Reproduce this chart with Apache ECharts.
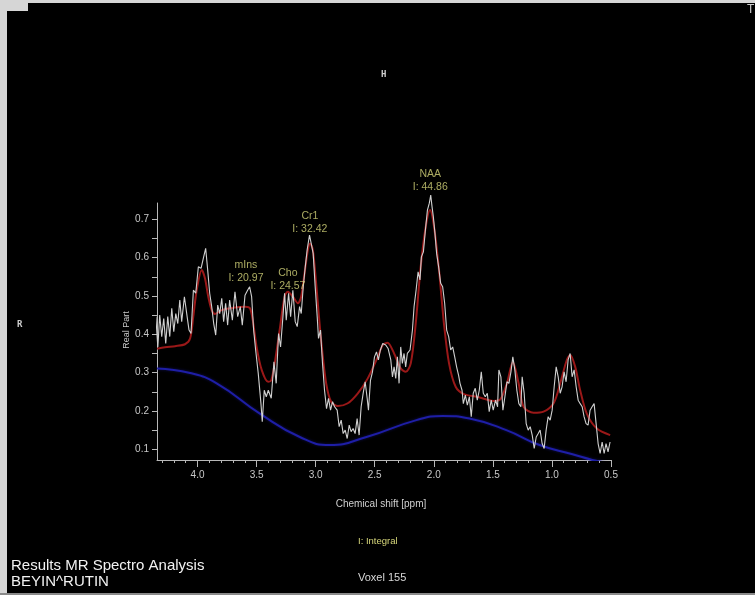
<!DOCTYPE html>
<html>
<head>
<meta charset="utf-8">
<title>MR Spectro Analysis</title>
<script src="https://cdn.jsdelivr.net/npm/echarts@6/dist/echarts.min.js"></script>
<style>
  html, body { margin: 0; padding: 0; background: #000; }
  #chart { width: 755px; height: 595px; }
</style>
</head>
<body>
<div id="chart"></div>
<script>
// Measured spectrum (real part) – chemical shift in ppm and amplitude
const measuredShift = [
  4.353, 4.336, 4.320, 4.303, 4.286, 4.269, 4.252, 4.235, 4.218, 4.201,
  4.184, 4.167, 4.150, 4.134, 4.111, 4.088, 4.072, 4.055, 4.035, 4.015,
  3.993, 3.970, 3.948, 3.931, 3.914, 3.897, 3.880, 3.863, 3.846, 3.829,
  3.812, 3.795, 3.779, 3.762, 3.745, 3.728, 3.705, 3.683, 3.660, 3.638,
  3.621, 3.598, 3.576, 3.559, 3.542, 3.525, 3.508, 3.486, 3.463, 3.452,
  3.435, 3.418, 3.401,
  3.376, 3.353, 3.334, 3.314, 3.297, 3.277, 3.263, 3.249, 3.229, 3.212,
  3.193, 3.173, 3.156, 3.136, 3.122, 3.105, 3.088, 3.072, 3.052, 3.038,
  3.021, 3.004, 2.987, 2.976, 2.959, 2.942, 2.925, 2.908, 2.891, 2.874,
  2.857, 2.840, 2.818, 2.801, 2.784, 2.767, 2.750, 2.733, 2.716, 2.700,
  2.683, 2.666, 2.649, 2.632, 2.615, 2.598, 2.581, 2.564, 2.553, 2.536,
  2.519, 2.502, 2.485, 2.469, 2.452,
  2.432, 2.407, 2.387, 2.364, 2.350, 2.336, 2.322, 2.308, 2.294, 2.280,
  2.266, 2.252, 2.238, 2.224, 2.201, 2.181, 2.167, 2.150, 2.133, 2.117,
  2.105, 2.088, 2.071, 2.054, 2.038, 2.026, 2.015, 2.004, 1.990, 1.976,
  1.959, 1.942, 1.925, 1.908, 1.891, 1.874, 1.857, 1.840, 1.823, 1.807,
  1.790, 1.778, 1.761, 1.750, 1.733, 1.716, 1.699, 1.683, 1.666, 1.649,
  1.632, 1.615, 1.598, 1.581, 1.564, 1.547, 1.531, 1.514, 1.497, 1.477,
  1.460, 1.449, 1.432, 1.415, 1.398, 1.381, 1.364, 1.347, 1.331, 1.314,
  1.297, 1.280, 1.263, 1.252, 1.235, 1.218, 1.201, 1.184, 1.167, 1.150,
  1.133, 1.116, 1.100, 1.083, 1.066, 1.049, 1.032, 1.015, 0.998, 0.981,
  0.964, 0.947, 0.930, 0.914, 0.897, 0.880, 0.863, 0.846, 0.829, 0.812,
  0.795, 0.778, 0.761, 0.744, 0.728, 0.711, 0.694, 0.677, 0.660, 0.643,
  0.626, 0.609, 0.592, 0.575, 0.558, 0.542, 0.525, 0.508
];
const measuredReal = [
  0.446, 0.367, 0.450, 0.394, 0.441, 0.376, 0.446, 0.394, 0.468, 0.407,
  0.454, 0.428, 0.489, 0.433, 0.498, 0.446, 0.411, 0.402, 0.515, 0.507,
  0.576, 0.572, 0.602, 0.624, 0.568, 0.507, 0.472, 0.428, 0.398, 0.476,
  0.454, 0.494, 0.433, 0.481, 0.424, 0.489, 0.437, 0.511, 0.446, 0.472,
  0.424, 0.502, 0.515, 0.524, 0.498, 0.411, 0.359, 0.298, 0.219, 0.172,
  0.254, 0.237, 0.254,
  0.233, 0.328, 0.272, 0.402, 0.367, 0.446, 0.507, 0.437, 0.507, 0.446,
  0.515, 0.433, 0.420, 0.472, 0.454, 0.524, 0.576, 0.620, 0.659, 0.655,
  0.611, 0.524, 0.446, 0.389, 0.411, 0.324, 0.254, 0.206, 0.233, 0.202,
  0.224, 0.211, 0.202, 0.159, 0.176, 0.141, 0.150, 0.128, 0.163, 0.146,
  0.154, 0.141, 0.180, 0.137, 0.211, 0.246, 0.276, 0.233, 0.202, 0.280,
  0.302, 0.341, 0.354, 0.333, 0.359,
  0.376, 0.372, 0.363, 0.333, 0.289, 0.315, 0.285, 0.341, 0.272, 0.367,
  0.324, 0.350, 0.315, 0.350, 0.359, 0.411, 0.472, 0.515, 0.563, 0.542,
  0.602, 0.615, 0.672, 0.724, 0.742, 0.763, 0.733, 0.707, 0.663, 0.611,
  0.576, 0.533, 0.524, 0.481, 0.411, 0.394, 0.359, 0.367, 0.341, 0.315,
  0.293, 0.272, 0.254, 0.219, 0.241, 0.215, 0.237, 0.185, 0.246, 0.259,
  0.228, 0.254, 0.302, 0.246, 0.237, 0.246, 0.198, 0.228, 0.202, 0.228,
  0.211, 0.307, 0.289, 0.202, 0.237, 0.276, 0.272, 0.302, 0.341, 0.307,
  0.254, 0.219, 0.211, 0.289, 0.246, 0.167, 0.150, 0.159, 0.137, 0.102,
  0.132, 0.141, 0.150, 0.115, 0.102, 0.150, 0.185, 0.176, 0.202, 0.263,
  0.315, 0.289, 0.246, 0.263, 0.302, 0.276, 0.333, 0.350, 0.289, 0.307,
  0.263, 0.228, 0.219, 0.211, 0.185, 0.167, 0.163, 0.202, 0.211, 0.219,
  0.167, 0.115, 0.089, 0.119, 0.089, 0.115, 0.093, 0.119
];

// Fitted model spectrum
const fitShift = [
  4.342, 4.275, 4.190, 4.106, 4.063, 4.036, 4.007, 3.964, 3.937, 3.909,
  3.880, 3.852, 3.795, 3.683, 3.598, 3.556, 3.528, 3.500, 3.457, 3.402,
  3.376, 3.347, 3.305, 3.263, 3.235, 3.193, 3.150, 3.123, 3.094, 3.066,
  3.047, 3.024, 2.996, 2.954, 2.911, 2.869, 2.812, 2.728, 2.643, 2.559,
  2.474, 2.432, 2.392, 2.336, 2.280, 2.238, 2.195, 2.153, 2.111, 2.068,
  2.032, 1.998, 1.956, 1.914, 1.871, 1.815, 1.745, 1.631, 1.494, 1.437,
  1.381, 1.331, 1.282, 1.240, 1.156, 1.071, 0.986, 0.930, 0.874, 0.845,
  0.803, 0.761, 0.705, 0.620, 0.507
];
const fitReal = [
  0.362, 0.366, 0.369, 0.374, 0.389, 0.446, 0.515, 0.568, 0.546, 0.498,
  0.463, 0.453, 0.463, 0.470, 0.472, 0.468, 0.428, 0.367, 0.307, 0.276,
  0.280, 0.324, 0.411, 0.498, 0.511, 0.498, 0.481, 0.498, 0.559, 0.620,
  0.637, 0.620, 0.533, 0.385, 0.272, 0.224, 0.213, 0.220, 0.246, 0.285,
  0.341, 0.372, 0.378, 0.350, 0.311, 0.302, 0.324, 0.428, 0.576, 0.681,
  0.724, 0.681, 0.568, 0.428, 0.324, 0.263, 0.244, 0.237, 0.226, 0.230,
  0.272, 0.328, 0.272, 0.211, 0.195, 0.198, 0.220, 0.272, 0.333, 0.346,
  0.315, 0.254, 0.193, 0.154, 0.137
];

// Baseline estimate
const baselineShift = [4.342, 4.063, 3.838, 3.472, 3.134, 2.880, 2.570, 2.147, 1.925, 1.697, 1.386, 1.105, 0.826, 0.657, 0.560];
const baselineReal  = [0.311, 0.299, 0.272, 0.193, 0.132, 0.111, 0.132, 0.176, 0.187, 0.180, 0.150, 0.111, 0.087, 0.072, 0.066];

// Metabolite annotations: name, integral, anchor (ppm, level) for the label
const peakNames     = ['mIns', 'Cho', 'Cr1', 'NAA'];
const peakIntegrals = ['20.97', '24.57', '32.42', '44.86'];
const labelShift    = [3.590, 3.235, 3.049, 2.030];
const labelLevel    = [0.529, 0.509, 0.658, 0.7665];

// Axis ticks
const xLabelTicks = [4.0, 3.5, 3.0, 2.5, 2.0, 1.5, 1.0, 0.5];
const xMinorTicks = [4.3, 4.2, 4.1, 4.0, 3.9, 3.8, 3.7, 3.6, 3.5, 3.4, 3.3, 3.2, 3.1, 3.0,
                     2.9, 2.8, 2.7, 2.6, 2.5, 2.4, 2.3, 2.2, 2.1, 2.0, 1.9, 1.8, 1.7, 1.6,
                     1.5, 1.4, 1.3, 1.2, 1.1, 1.0, 0.9, 0.8, 0.7, 0.6, 0.5];
const yLabelTicks = [0.1, 0.2, 0.3, 0.4, 0.5, 0.6, 0.7];
const yAllTicks   = [0.1, 0.15, 0.2, 0.25, 0.3, 0.35, 0.4, 0.45, 0.5, 0.55, 0.6, 0.65, 0.7];

const X_MIN = 0.5, X_MAX = 4.343;
const Y_MIN = 0.072, Y_MAX = 0.7425;

const pairs = (xs, ys) => xs.map((x, i) => [x, ys[i]]);

const axisGrey = '#b8b8b8';
const labelGrey = '#c8c8c8';
const yellow = '#d6d67a';
const FONT = 'Liberation Sans, Arial, sans-serif';

const chart = echarts.init(document.getElementById('chart'), null, { renderer: 'canvas' });

const option = {
  backgroundColor: '#000',
  animation: false,
  grid: { left: 157, top: 203, width: 454, height: 257, containLabel: false },
  xAxis: [
    {
      type: 'value', inverse: true, min: X_MIN, max: X_MAX, position: 'bottom',
      axisLine: { show: true, lineStyle: { color: axisGrey, width: 1 } },
      axisTick: { show: true, length: 3, customValues: xMinorTicks, lineStyle: { color: axisGrey } },
      axisLabel: { show: false },
      splitLine: { show: false }
    },
    {
      type: 'value', inverse: true, min: X_MIN, max: X_MAX, position: 'bottom',
      axisLine: { show: false },
      axisTick: { show: true, length: 7, customValues: xLabelTicks, lineStyle: { color: axisGrey } },
      axisLabel: {
        show: true, customValues: xLabelTicks, margin: 10,
        color: labelGrey, fontSize: 10, fontFamily: FONT,
        formatter: v => v.toFixed(1)
      },
      splitLine: { show: false }
    }
  ],
  yAxis: [
    {
      type: 'value', min: Y_MIN, max: Y_MAX,
      axisLine: { show: true, lineStyle: { color: axisGrey, width: 1 } },
      axisTick: { show: true, length: 5, customValues: yAllTicks, lineStyle: { color: axisGrey } },
      axisLabel: {
        show: true, customValues: yLabelTicks, margin: 8,
        color: labelGrey, fontSize: 10, fontFamily: FONT,
        formatter: v => v.toFixed(1)
      },
      splitLine: { show: false }
    }
  ],
  series: [
    {
      name: 'Baseline', type: 'line', smooth: 0.5, symbol: 'none',
      data: pairs(baselineShift, baselineReal),
      lineStyle: { color: '#1e1ea6', width: 2, shadowColor: 'rgba(30,30,170,0.5)', shadowBlur: 3 },
      z: 2
    },
    {
      name: 'Fit', type: 'line', smooth: 0.3, symbol: 'none',
      data: pairs(fitShift, fitReal),
      lineStyle: { color: '#9a1818', width: 2 },
      z: 3
    },
    {
      name: 'Measured', type: 'line', smooth: false, symbol: 'none', clip: false,
      data: pairs(measuredShift, measuredReal),
      lineStyle: { color: '#d0d0d0', width: 1.1 },
      z: 4
    },
    {
      name: 'Peaks', type: 'scatter', symbolSize: 0, clip: false, silent: true,
      data: labelShift.map((x, i) => ({
        value: [x, labelLevel[i]],
        label: { formatter: peakNames[i] + '\nI: ' + peakIntegrals[i] }
      })),
      label: {
        show: true, position: 'top', distance: 0, align: 'center',
        color: yellow, fontSize: 10.5, lineHeight: 13, fontFamily: FONT
      },
      z: 5
    }
  ],
  graphic: [
    // light frame around the viewer panel
    { type: 'rect', shape: { x: 0, y: 0, width: 755, height: 3 }, style: { fill: '#d6d6d6' }, silent: true },
    { type: 'rect', shape: { x: 0, y: 0, width: 7, height: 595 }, style: { fill: '#d6d6d6' }, silent: true },
    { type: 'rect', shape: { x: 0, y: 0, width: 28, height: 11 }, style: { fill: '#d6d6d6' }, silent: true },
    { type: 'rect', shape: { x: 0, y: 593, width: 755, height: 2 }, style: { fill: '#8a8a8a' }, silent: true },
    // orientation markers
    { type: 'text', left: 381, top: 70, style: { text: 'H', fill: '#cfcfcf', font: 'bold 9px DejaVu Sans Mono, monospace' } },
    { type: 'text', left: 17, top: 320, style: { text: 'R', fill: '#cfcfcf', font: 'bold 9px DejaVu Sans Mono, monospace' } },
    { type: 'text', left: 747, top: 4, style: { text: 'T', fill: '#cfcfcf', font: '12px ' + FONT } },
    // axis titles
    {
      type: 'text', x: 127, y: 330, rotation: Math.PI / 2,
      style: { text: 'Real Part', fill: labelGrey, font: '9px ' + FONT, align: 'center', verticalAlign: 'middle' }
    },
    {
      type: 'text', x: 381, y: 504,
      style: { text: 'Chemical shift [ppm]', fill: '#d0d0d0', font: '10px ' + FONT, align: 'center', verticalAlign: 'middle' }
    },
    {
      type: 'text', x: 358, y: 541,
      style: { text: 'I: Integral', fill: yellow, font: '9.5px ' + FONT, align: 'left', verticalAlign: 'middle' }
    },
    // footer
    {
      type: 'text', x: 11, y: 566,
      style: { text: 'Results MR Spectro Analysis', fill: '#f2f2f2', font: '15px ' + FONT, verticalAlign: 'middle' }
    },
    {
      type: 'text', x: 11, y: 582,
      style: { text: 'BEYIN^RUTIN', fill: '#f2f2f2', font: '15px ' + FONT, verticalAlign: 'middle' }
    },
    {
      type: 'text', x: 358, y: 578,
      style: { text: 'Voxel 155', fill: '#d8d8d8', font: '11px ' + FONT, verticalAlign: 'middle' }
    }
  ]
};

chart.setOption(option);
</script>
</body>
</html>
